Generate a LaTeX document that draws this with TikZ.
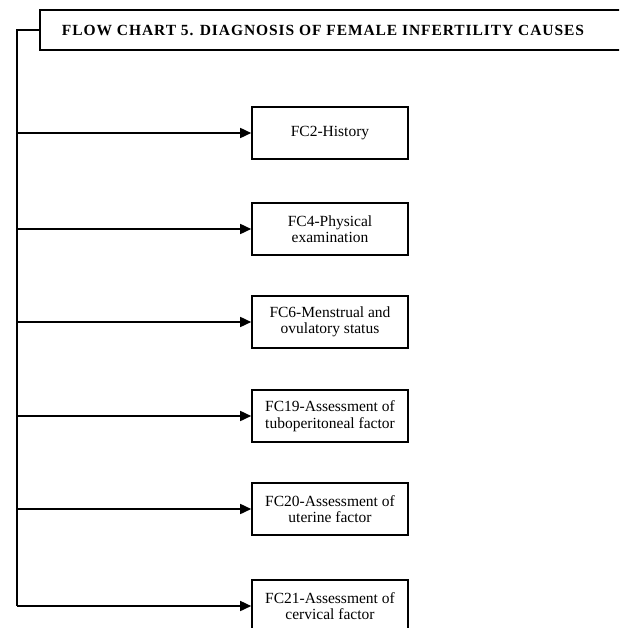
\documentclass[tikz,border=0pt]{standalone}
\usepackage{fontspec}
\setmainfont{Liberation Serif}
\newfontfamily\titlefont[LetterSpace=6]{Liberation Serif Bold}
\usetikzlibrary{arrows.meta}
\tikzset{
  link/.style={line width=1.6pt},
  arrowlink/.style={link, -{Triangle[length=11pt,width=10pt]}},
  fcbox/.style={draw, line width=1.6pt, minimum width=156pt, minimum height=52pt,
    inner sep=2pt, align=center, font=\fontsize{15.5}{16.5}\selectfont},
  titlebox/.style={draw, line width=1.6pt, anchor=west, minimum height=40pt,
    minimum width=600pt, inner sep=0pt}
}
\begin{document}
\begin{tikzpicture}[x=1pt,y=-1pt]
  \useasboundingbox (0,0) rectangle (619,628);
  \clip (0,0) rectangle (619,628);
  % heading box, running off the right edge
  \node[titlebox] (title) at (39,30) {};
  \node[font=\titlefont\fontsize{15.5}{17}\selectfont] (titletext) at (323,30)
    {FLOW CHART 5. DIAGNOSIS OF FEMALE INFERTILITY CAUSES};
  % the six follow-up charts
  \node[fcbox] (b1) at (330,133) {FC2-History};
  \node[fcbox] (b2) at (330,229) {FC4-Physical\\examination};
  \node[fcbox] (b3) at (330,322) {FC6-Menstrual and\\ovulatory status};
  \node[fcbox] (b4) at (330,416) {FC19-Assessment of\\tuboperitoneal factor};
  \node[fcbox] (b5) at (330,509) {FC20-Assessment of\\uterine factor};
  \node[fcbox] (b6) at (330,606) {FC21-Assessment of\\cervical factor};
  % left spine
  \coordinate (sp) at (17,0);
  \draw[link] (title.west) -| (sp |- b6.west);
  \foreach \b in {b1,b2,b3,b4,b5,b6}
    \draw[arrowlink] (sp |- \b.west) -- (\b.west);
\end{tikzpicture}
\end{document}
